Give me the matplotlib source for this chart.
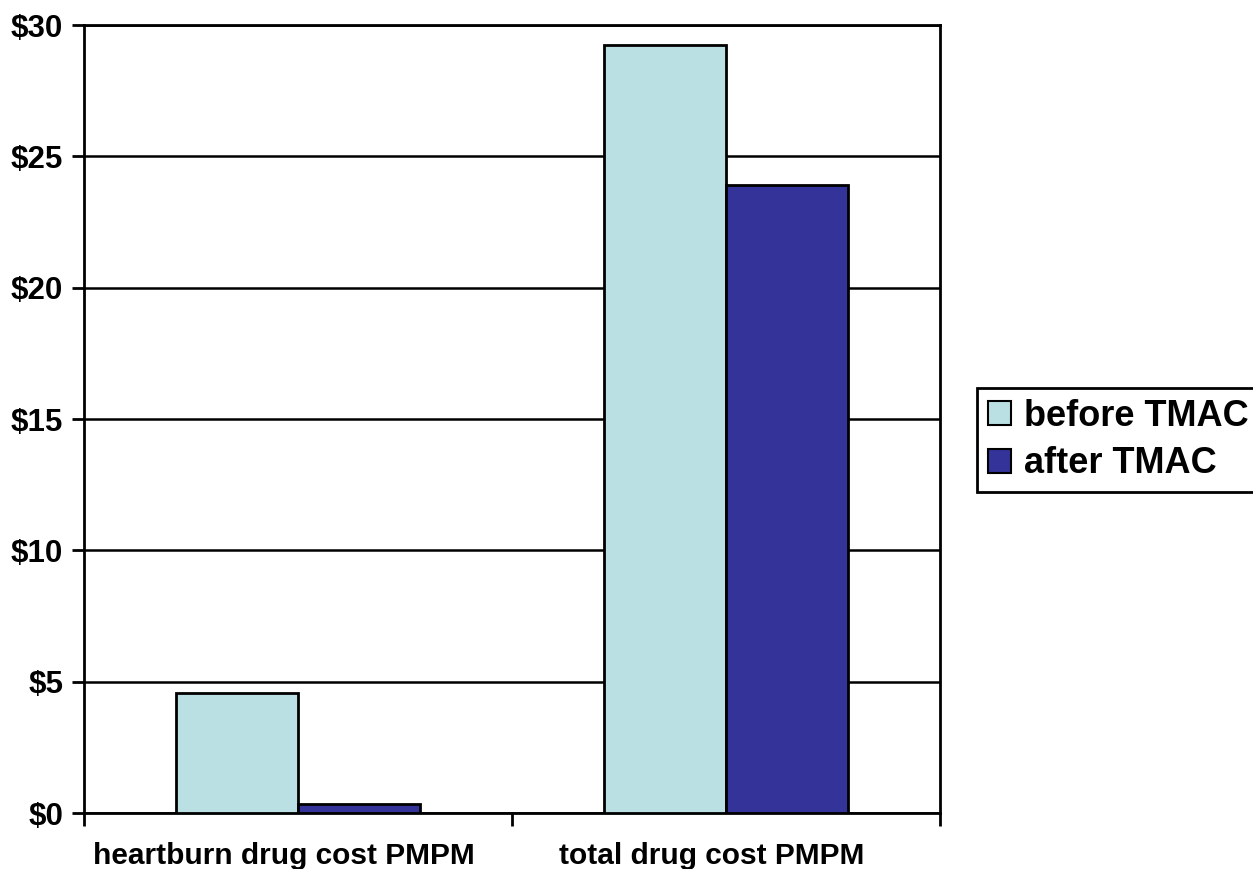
import matplotlib
matplotlib.use("Agg")
import matplotlib.pyplot as plt
import matplotlib.transforms as mtransforms
import numpy as np

categories = ["heartburn drug cost PMPM", "total drug cost PMPM"]
series_names = ["before TMAC", "after TMAC"]
before_tmac = [4.56, 29.25]
after_tmac = [0.35, 23.9]
y_ticks = [0, 5, 10, 15, 20, 25, 30]
y_tick_labels = ["$0", "$5", "$10", "$15", "$20", "$25", "$30"]

colors = ["#BBE0E3", "#333399"]

plt.rcParams["font.family"] = ["Liberation Sans", "DejaVu Sans"]
plt.rcParams["font.weight"] = "bold"

fig = plt.figure(figsize=(12.53, 8.69), dpi=100)
ax = fig.add_axes([84 / 1253, 1 - 813 / 869, (940 - 84) / 1253, (813 - 25) / 869])

x = np.arange(len(categories))
w = 0.285
ax.bar(x - w / 2, before_tmac, w, color=colors[0], edgecolor="black",
       linewidth=2, label=series_names[0], zorder=3)
ax.bar(x + w / 2, after_tmac, w, color=colors[1], edgecolor="black",
       linewidth=2, label=series_names[1], zorder=3)

ax.set_xlim(-0.5, len(categories) - 0.5)
ax.set_ylim(0, 30)
ax.set_yticks(y_ticks)
ax.set_yticklabels(y_tick_labels, fontsize=22.5, fontweight="bold")
ax.yaxis.grid(True, color="black", linewidth=1.8, zorder=0)
ax.set_axisbelow(True)

# category ticks sit on the boundaries; labels centred under each group
ax.set_xticks(np.arange(len(categories) + 1) - 0.5)
ax.set_xticklabels([])
ax.set_xticks(x, minor=True)
ax.set_xticklabels(categories, minor=True, fontsize=21.5, fontweight="bold")
ax.tick_params(axis="x", which="minor", length=0, pad=21)
ax.tick_params(axis="x", which="major", length=9, width=2, direction="out")
ax.tick_params(axis="y", length=9, width=2, direction="out", pad=6)
shift = mtransforms.ScaledTranslation(-14 / 100, 0, fig.dpi_scale_trans)
for lbl in ax.get_xticklabels(minor=True):
    lbl.set_transform(lbl.get_transform() + shift)

for s in ax.spines.values():
    s.set_linewidth(2)
    s.set_color("black")

leg = ax.legend(loc="upper left", bbox_to_anchor=(977 / 1253, 1 - 388 / 869),
                bbox_transform=fig.transFigure, fontsize=26, frameon=True,
                fancybox=False, edgecolor="black", framealpha=1,
                handlelength=0.65, handleheight=0.65, handletextpad=0.35,
                borderpad=0.3, labelspacing=0.35, borderaxespad=0)
leg.get_frame().set_linewidth(2)
for t in leg.get_texts():
    t.set_fontweight("bold")
for h in leg.legend_handles:
    h.set_linewidth(1.5)

fig.savefig("out.png", dpi=100)
